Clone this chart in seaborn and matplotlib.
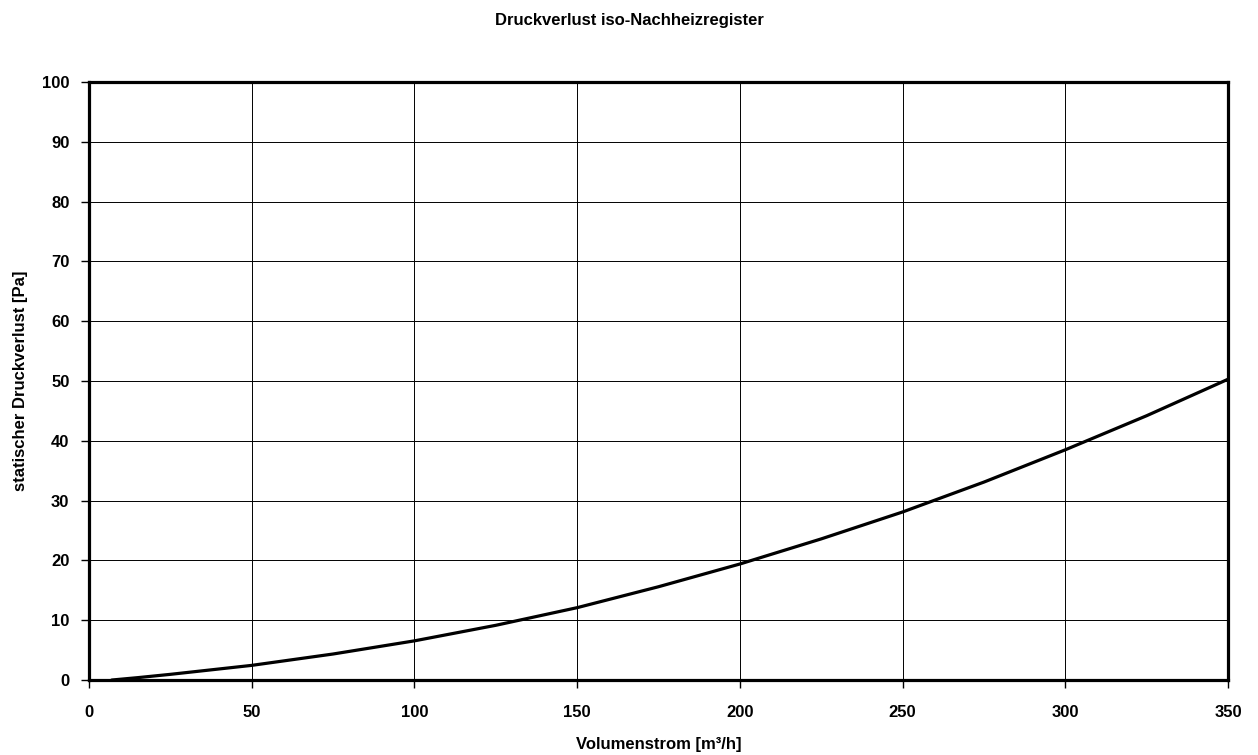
import numpy as np
import pandas as pd
import seaborn as sns
import matplotlib
matplotlib.use('Agg')
import matplotlib.pyplot as plt

# Werte
volumenstrom = [7, 15, 25, 50, 75, 100, 125, 150, 175, 200, 225, 250, 275, 300, 325, 350]
druckverlust = [0.0, 0.4, 0.95, 2.45, 4.35, 6.55, 9.15, 12.1, 15.6, 19.4, 23.6, 28.1, 33.1, 38.5, 44.2, 50.3]

x_ticks = [0, 50, 100, 150, 200, 250, 300, 350]
y_ticks = [0, 10, 20, 30, 40, 50, 60, 70, 80, 90, 100]

df = pd.DataFrame({'vol': volumenstrom, 'dp': druckverlust})

sns.set_style('white')
plt.rcParams['font.family'] = ['Liberation Sans', 'DejaVu Sans']
plt.rcParams['font.weight'] = 'bold'
plt.rcParams['text.color'] = 'black'
plt.rcParams['axes.labelcolor'] = 'black'

fig = plt.figure(figsize=(12.58, 7.55), dpi=100)
ax = fig.add_axes([0.0707, 0.0993, 0.9055, 0.7921])

sns.lineplot(data=df, x='vol', y='dp', color='black', linewidth=2.3, ax=ax)

ax.set_xlim(0, 350)
ax.set_ylim(0, 100)
ax.set_xticks(x_ticks)
ax.set_yticks(y_ticks)
ax.grid(True, color='black', linewidth=0.7)
ax.set_axisbelow(True)
ax.tick_params(direction='out', length=6, width=1, colors='black', labelsize=12,
               bottom=True, left=True)
ax.tick_params(axis='x', pad=12)
ax.tick_params(axis='y', pad=8)
for lbl in ax.get_xticklabels() + ax.get_yticklabels():
    lbl.set_fontweight('bold')
for sp in ax.spines.values():
    sp.set_color('black')
    sp.set_linewidth(2.3)

ax.set_xlabel('Volumenstrom [m³/h]', fontsize=12, fontweight='bold', labelpad=12, color='black')
ax.set_ylabel('statischer Druckverlust [Pa]', fontsize=12, fontweight='bold', labelpad=10, color='black')
fig.text(0.5, 0.973, 'Druckverlust iso-Nachheizregister', ha='center', va='center',
         fontsize=12, fontweight='bold', color='black')

fig.savefig('out.png', dpi=100)
